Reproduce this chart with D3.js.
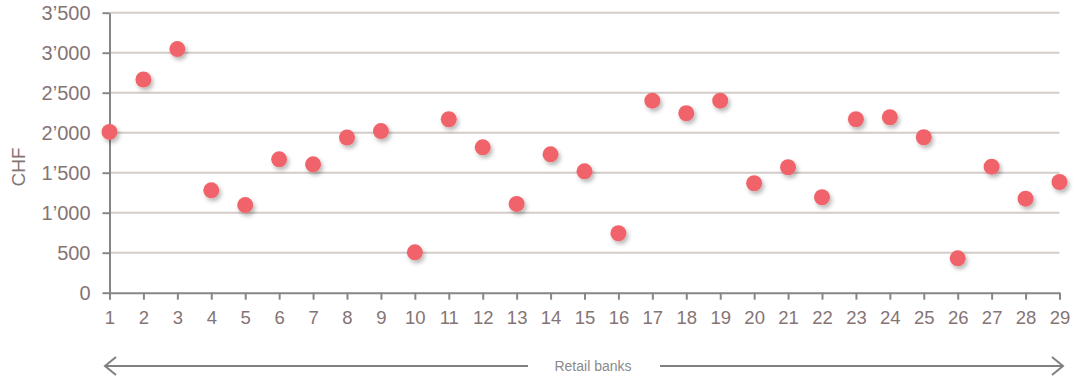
<!DOCTYPE html>
<html>
<head>
<meta charset="utf-8">
<script src="https://cdn.jsdelivr.net/npm/d3@7"></script>
<style>
  html, body { margin: 0; padding: 0; background: #fff; }
  svg { display: block; font-family: "Liberation Sans", Arial, sans-serif; }
</style>
</head>
<body>
<svg id="chart" width="1074" height="379"></svg>
<script>
// Bank index (1..29) and average fee in CHF
const banks = d3.range(1, 30);
const chf = [2010, 2665, 3045, 1280, 1095, 1667, 1605, 1940, 2020, 505,
             2168, 1817, 1110, 1730, 1517, 743, 2400, 2243, 2400, 1368,
             1568, 1193, 2168, 2193, 1943, 430, 1575, 1175, 1384];
const yTicks = [0, 500, 1000, 1500, 2000, 2500, 3000, 3500];
const yTitle = "CHF";
const groupLabel = "Retail banks";

const svg = d3.select("#chart");
const textColor = "#857474";
const axisColor = "#868686";
const gridColor = "#d3ccc8";
const dotColor = "#f0646a";
const fontFamily = "'Liberation Sans', Arial, sans-serif";

const x = d3.scaleLinear().domain([1, 29]).range([109.5, 1059.5]);
const y = d3.scaleLinear().domain([0, 3500]).range([292.7, 12.7]);

const fmt = d3.formatLocale({ decimal: ".", thousands: "\u2019", grouping: [3], currency: ["", ""] }).format(",d");

// drop shadow for markers
const defs = svg.append("defs");
const f = defs.append("filter").attr("id", "shadow")
  .attr("x", "-50%").attr("y", "-50%").attr("width", "200%").attr("height", "200%");
f.append("feDropShadow").attr("dx", 2).attr("dy", 3).attr("stdDeviation", 2)
  .attr("flood-color", "#000").attr("flood-opacity", 0.28);

// horizontal gridlines
svg.append("g").selectAll("line").data(yTicks.filter(d => d > 0)).join("line")
  .attr("x1", x(1)).attr("x2", x(29))
  .attr("y1", d => y(d)).attr("y2", d => y(d))
  .attr("stroke", gridColor).attr("stroke-width", 2);

// y axis
const yAxis = svg.append("g").attr("transform", `translate(${x(1)},0)`)
  .call(d3.axisLeft(y).tickValues(yTicks).tickFormat(fmt).tickSize(7).tickPadding(12).tickSizeOuter(0));
yAxis.attr("font-size", null).attr("font-family", null);
yAxis.select(".domain").attr("stroke", axisColor).attr("stroke-width", 2);
yAxis.selectAll(".tick line").attr("stroke", axisColor).attr("stroke-width", 2);
yAxis.selectAll("text").style("fill", textColor).style("font-size", "20px")
  .style("font-family", fontFamily);

// x axis
const xAxis = svg.append("g").attr("transform", `translate(0,${y(0)})`)
  .call(d3.axisBottom(x).tickValues(banks).tickFormat(d3.format("d")).tickSize(7).tickPadding(11).tickSizeOuter(0));
xAxis.attr("font-size", null).attr("font-family", null);
xAxis.select(".domain").attr("stroke", axisColor).attr("stroke-width", 2);
xAxis.selectAll(".tick line").attr("stroke", axisColor).attr("stroke-width", 2);
xAxis.selectAll("text").style("fill", textColor).style("font-size", "18.5px")
  .style("font-family", fontFamily);

// y title
svg.append("text")
  .attr("transform", `translate(25,167) rotate(-90)`)
  .attr("text-anchor", "middle")
  .style("fill", textColor).style("font-size", "19px")
  .text(yTitle);

// markers
svg.append("g").selectAll("circle").data(banks).join("circle")
  .attr("cx", d => x(d))
  .attr("cy", (d, i) => y(chf[i]))
  .attr("r", 8)
  .attr("fill", dotColor)
  .attr("filter", "url(#shadow)");

// bracket arrow below the axis
const arrowY = 366;
const ax0 = 105, ax1 = 1063;
const labelX = 593;
const arrowColor = "#808080";
const ag = svg.append("g").attr("stroke", arrowColor).attr("stroke-width", 2).attr("fill", "none");
ag.append("line").attr("x1", ax0).attr("x2", 528).attr("y1", arrowY).attr("y2", arrowY);
ag.append("line").attr("x1", 660).attr("x2", ax1).attr("y1", arrowY).attr("y2", arrowY);
ag.append("path").attr("d", `M${ax0 + 11},${arrowY - 9} L${ax0},${arrowY} L${ax0 + 11},${arrowY + 9}`);
ag.append("path").attr("d", `M${ax1 - 11},${arrowY - 9} L${ax1},${arrowY} L${ax1 - 11},${arrowY + 9}`);
svg.append("text").attr("x", labelX).attr("y", arrowY + 5)
  .attr("text-anchor", "middle").style("fill", "#8a8a8a").style("font-size", "14px")
  .text(groupLabel);
</script>
</body>
</html>
